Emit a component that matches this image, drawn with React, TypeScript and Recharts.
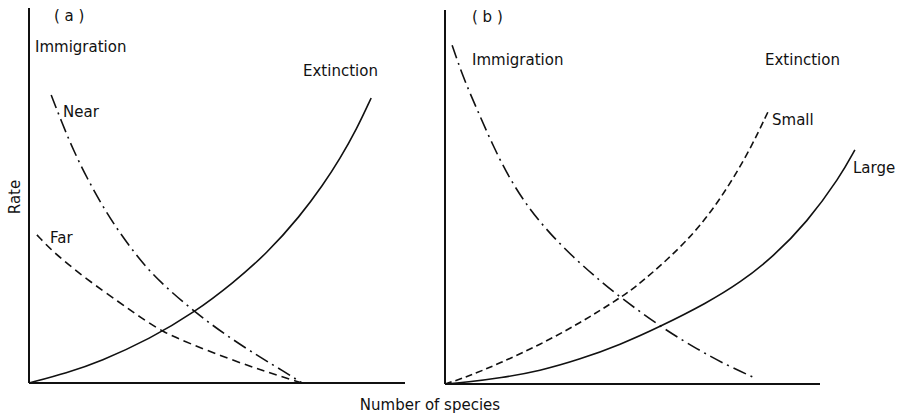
import React from "react";
import { Line, LineChart, ReferenceLine, XAxis, YAxis } from "recharts";

type Pt = { x: number; y: number };

// panel (a): immigration to near / far islands, one extinction curve
const extinctionA: Pt[] = [
  { x: 0, y: 0 },
  { x: 10.1, y: 2.7 },
  { x: 18.9, y: 5.7 },
  { x: 32.2, y: 11.8 },
  { x: 44.1, y: 18.9 },
  { x: 54.3, y: 26.7 },
  { x: 63.3, y: 34.6 },
  { x: 72.1, y: 44.5 },
  { x: 78.2, y: 52.8 },
  { x: 82.7, y: 59.8 },
  { x: 87.2, y: 67.8 },
  { x: 91.0, y: 76.0 },
];

const nearA: Pt[] = [
  { x: 5.9, y: 76.8 },
  { x: 8.8, y: 69.3 },
  { x: 11.7, y: 62.3 },
  { x: 15.4, y: 54.7 },
  { x: 19.7, y: 46.9 },
  { x: 24.2, y: 39.9 },
  { x: 29.5, y: 32.8 },
  { x: 34.8, y: 26.9 },
  { x: 44.1, y: 18.9 },
  { x: 52.7, y: 12.5 },
  { x: 61.4, y: 6.9 },
  { x: 67.6, y: 3.2 },
  { x: 72.6, y: 0 },
];

const farA: Pt[] = [
  { x: 2.1, y: 39.5 },
  { x: 6.4, y: 34.9 },
  { x: 15.4, y: 27.6 },
  { x: 24.2, y: 21.4 },
  { x: 29.5, y: 17.6 },
  { x: 35.6, y: 13.6 },
  { x: 42.8, y: 10.5 },
  { x: 53.5, y: 6.3 },
  { x: 63.3, y: 2.9 },
  { x: 72.6, y: 0 },
];

// panel (b): one immigration curve, extinction on small / large islands
const immigrationB: Pt[] = [
  { x: 1.9, y: 90.6 },
  { x: 4.8, y: 82.1 },
  { x: 8.5, y: 73.5 },
  { x: 12.8, y: 63.7 },
  { x: 17.3, y: 54.7 },
  { x: 22.7, y: 46.5 },
  { x: 28.0, y: 40.2 },
  { x: 34.1, y: 34.0 },
  { x: 40.5, y: 28.3 },
  { x: 46.7, y: 23.2 },
  { x: 57.9, y: 15.0 },
  { x: 67.6, y: 9.1 },
  { x: 75.2, y: 5.0 },
  { x: 82.7, y: 1.6 },
];

const smallB: Pt[] = [
  { x: 0, y: 0 },
  { x: 5.9, y: 1.9 },
  { x: 14.7, y: 5.6 },
  { x: 25.3, y: 10.5 },
  { x: 36.0, y: 16.3 },
  { x: 46.7, y: 23.0 },
  { x: 52.0, y: 26.8 },
  { x: 62.7, y: 36.3 },
  { x: 69.9, y: 44.5 },
  { x: 76.0, y: 53.5 },
  { x: 81.3, y: 62.6 },
  { x: 86.1, y: 72.7 },
];

const largeB: Pt[] = [
  { x: 0, y: 0 },
  { x: 5.9, y: 0.5 },
  { x: 14.7, y: 1.6 },
  { x: 25.3, y: 3.5 },
  { x: 36.0, y: 6.6 },
  { x: 46.7, y: 10.5 },
  { x: 57.3, y: 15.3 },
  { x: 69.9, y: 21.7 },
  { x: 78.7, y: 27.1 },
  { x: 87.5, y: 34.0 },
  { x: 96.5, y: 43.2 },
  { x: 105.3, y: 55.3 },
  { x: 109.3, y: 62.6 },
];

const INK = "#111";
const FONT = "'DejaVu Sans', sans-serif";
const lineProps = {
  type: "basis" as const,
  dataKey: "y",
  stroke: INK,
  strokeWidth: 1.6,
  dot: false,
  activeDot: false,
  isAnimationActive: false,
};

export default function App() {
  return (
    <div
      style={{
        position: "absolute",
        left: 0,
        top: 0,
        width: 899,
        height: 414,
        background: "#fff",
        fontFamily: FONT,
      }}
    >
      <div style={{ position: "absolute", left: 0, top: 0 }}>
        <LineChart
          width={420}
          height={414}
          margin={{ top: 8, right: 15, bottom: 31, left: 29 }}
        >
          <XAxis dataKey="x" type="number" domain={[0, 100]} hide />
          <YAxis type="number" domain={[0, 100]} hide />
          <ReferenceLine x={0} stroke={INK} strokeWidth={2} />
          <ReferenceLine y={0} stroke={INK} strokeWidth={2} />
          <Line {...lineProps} data={extinctionA} />
          <Line {...lineProps} data={nearA} strokeDasharray="14 5 2 5" />
          <Line {...lineProps} data={farA} strokeDasharray="8 5" />
        </LineChart>
      </div>

      <div style={{ position: "absolute", left: 430, top: 0 }}>
        <LineChart
          width={469}
          height={414}
          margin={{ top: 10, right: 41.5, bottom: 30, left: 15 }}
        >
          <XAxis dataKey="x" type="number" domain={[0, 110]} hide />
          <YAxis type="number" domain={[0, 100]} hide />
          <ReferenceLine x={0} stroke={INK} strokeWidth={2} />
          <ReferenceLine
            segment={[
              { x: 0, y: 0 },
              { x: 100, y: 0 },
            ]}
            stroke={INK}
            strokeWidth={2}
          />
          <Line {...lineProps} data={largeB} />
          <Line {...lineProps} data={smallB} strokeDasharray="7 4" />
          <Line {...lineProps} data={immigrationB} strokeDasharray="14 5 2 5" />
        </LineChart>
      </div>

      <svg
        width={899}
        height={414}
        style={{ position: "absolute", left: 0, top: 0, pointerEvents: "none" }}
        fontFamily={FONT}
        fontSize={15}
        fill={INK}
      >
        <text x={54} y={21}>( a )</text>
        <text x={35} y={52}>Immigration</text>
        <text x={303} y={76}>Extinction</text>
        <text x={63} y={117}>Near</text>
        <text x={50} y={243}>Far</text>
        <text x={20} y={197} transform="rotate(-90 20 197)" textAnchor="middle">
          Rate
        </text>
        <text x={472} y={22}>( b )</text>
        <text x={472} y={65}>Immigration</text>
        <text x={765} y={65}>Extinction</text>
        <text x={772} y={125}>Small</text>
        <text x={853} y={173}>Large</text>
        <text x={430} y={410} textAnchor="middle">Number of species</text>
      </svg>
    </div>
  );
}
